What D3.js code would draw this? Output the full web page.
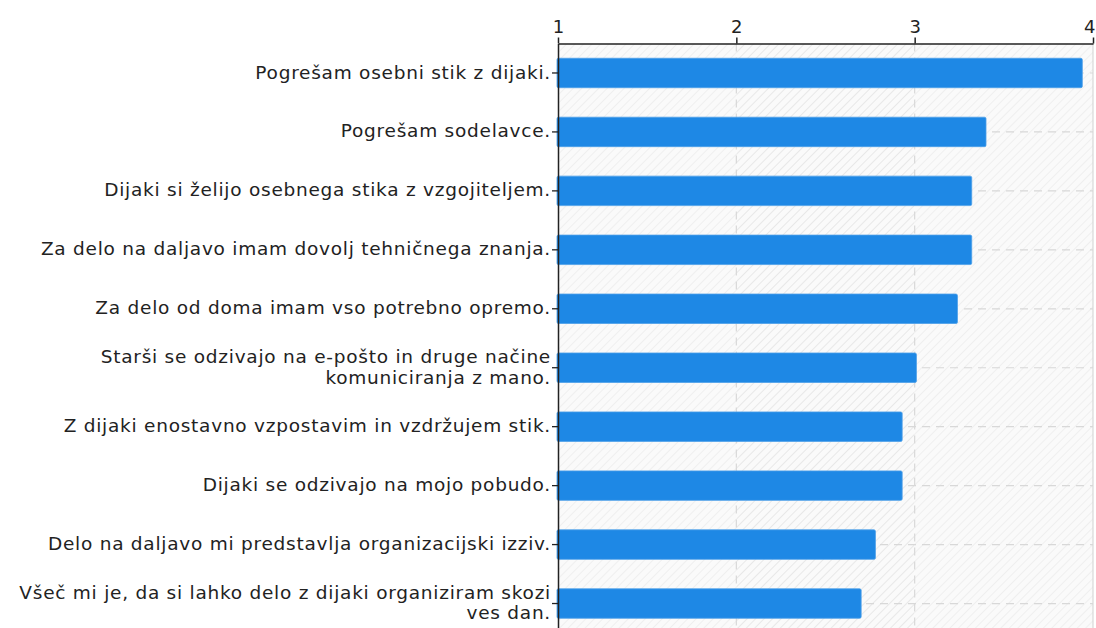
<!DOCTYPE html>
<html>
  <head>
    <meta charset="utf-8">
    <title></title>
    <style>
      body { margin: 0; background: #fff; }
      svg { display: block; font-family: 'DejaVu Sans', Verdana, sans-serif; }
    </style>
  </head>
  <body>
    <script src="https://cdn.jsdelivr.net/npm/d3@7"></script>
    <script>
      var categories = [
        'Pogrešam osebni stik z dijaki.',
        'Pogrešam sodelavce.',
        'Dijaki si želijo osebnega stika z vzgojiteljem.',
        'Za delo na daljavo imam dovolj tehničnega znanja.',
        'Za delo od doma imam vso potrebno opremo.',
        'Starši se odzivajo na e-pošto in druge načine komuniciranja z mano.',
        'Z dijaki enostavno vzpostavim in vzdržujem stik.',
        'Dijaki se odzivajo na mojo pobudo.',
        'Delo na daljavo mi predstavlja organizacijski izziv.',
        'Všeč mi je, da si lahko delo z dijaki organiziram skozi ves dan.'
      ];
      var values = [3.94, 3.40, 3.32, 3.32, 3.24, 3.01, 2.93, 2.93, 2.78, 2.70];
      var tickValues = [1, 2, 3, 4];

      var
        width = 1096, //svg宽
        height = 628, //svg高
        margin = { top: 43.5, right: 3, bottom: -5, left: 558 },
        plotW = width - margin.left - margin.right,
        plotH = height - margin.top - margin.bottom,
        fontSize = 18.5,
        spacing = 0.75;

      var svg = d3.select('body')
        .append('svg')
        .attr('width', width)
        .attr('height', height);

      // 斜线背景
      var defs = svg.append('defs');
      function hatch(id, color) {
        var p = defs.append('pattern')
          .attr('id', id)
          .attr('patternUnits', 'userSpaceOnUse')
          .attr('width', 6)
          .attr('height', 6)
          .attr('patternTransform', 'rotate(45)');
        p.append('rect').attr('width', 6).attr('height', 6).attr('fill', '#fafafa');
        p.append('line')
          .attr('x1', 0).attr('y1', 0).attr('x2', 0).attr('y2', 6)
          .attr('stroke', color).attr('stroke-width', 1.2);
      }
      hatch('hatchLight', '#e8e8e8');
      hatch('hatchDark', '#dcdcdc');

      var g = svg.append('g')
        .attr('transform', 'translate(' + margin.left + ',' + margin.top + ')');

      var x = d3.scaleLinear().domain([1, 4]).range([0, plotW]);
      var y = d3.scaleBand().domain(categories).range([0, plotH]).paddingInner(0.5).paddingOuter(0.25);

      // 背景列
      g.selectAll('.col')
        .data(d3.pairs(tickValues))
        .enter()
        .append('rect')
        .attr('x', function(d) { return x(d[0]); })
        .attr('y', 0)
        .attr('width', function(d) { return x(d[1]) - x(d[0]); })
        .attr('height', plotH)
        .attr('fill', function(d, i) { return i === 1 ? 'url(#hatchDark)' : 'url(#hatchLight)'; });

      // 网格线
      g.selectAll('.vgrid')
        .data(tickValues.slice(1))
        .enter()
        .append('line')
        .attr('x1', function(d) { return x(d); })
        .attr('x2', function(d) { return x(d); })
        .attr('y1', 0)
        .attr('y2', plotH)
        .attr('stroke', '#d8d8d8')
        .attr('stroke-width', 1.2)
        .attr('stroke-dasharray', function(d) { return d === 4 ? null : '8,6'; });

      g.selectAll('.hgrid')
        .data(categories)
        .enter()
        .append('line')
        .attr('x1', 0)
        .attr('x2', plotW)
        .attr('y1', function(d) { return y(d) + y.bandwidth() / 2; })
        .attr('y2', function(d) { return y(d) + y.bandwidth() / 2; })
        .attr('stroke', '#d8d8d8')
        .attr('stroke-width', 1.2)
        .attr('stroke-dasharray', '8,6');

      // 柱形
      g.selectAll('.bar')
        .data(values)
        .enter()
        .append('rect')
        .attr('x', -1)
        .attr('y', function(d, i) { return y(categories[i]); })
        .attr('width', function(d) { return x(d) + 1; })
        .attr('height', y.bandwidth())
        .attr('rx', 1.5)
        .attr('fill', '#1e88e5')
        .attr('stroke', '#4c9fe9')
        .attr('stroke-width', 0.8);

      // 上方坐标轴
      var xAxis = d3.axisTop(x).tickValues(tickValues).tickFormat(d3.format('d')).tickSizeInner(6).tickSizeOuter(0).tickPadding(5);
      var ax = g.append('g').call(xAxis);
      ax.select('.domain').attr('stroke', '#222').attr('stroke-width', 1.5);
      ax.selectAll('.tick line').attr('stroke', '#222').attr('stroke-width', 1.5);
      ax.selectAll('.tick text')
        .attr('fill', '#222')
        .attr('font-size', 18)
        .attr('font-family', "'DejaVu Sans', Verdana, sans-serif")
        .filter(function(d) { return d === 4; })
        .attr('text-anchor', 'end')
        .attr('dx', 2);

      // 左侧坐标轴
      var yAxis = d3.axisLeft(y).tickSizeInner(6).tickSizeOuter(0).tickFormat('');
      var ay = g.append('g').call(yAxis);
      ay.select('.domain').attr('stroke', '#222').attr('stroke-width', 1.5);
      ay.selectAll('.tick line').attr('stroke', '#222').attr('stroke-width', 1.3);

      // 分类文字（自动换行）
      var maxW = 545;
      var labels = g.selectAll('.ylabel')
        .data(categories)
        .enter()
        .append('text')
        .attr('class', 'ylabel')
        .attr('text-anchor', 'end')
        .attr('font-size', fontSize)
        .attr('letter-spacing', spacing)
        .attr('fill', '#222');

      labels.each(function(d) {
        var t = d3.select(this);
        var words = d.split(' ');
        var lines = [];
        var line = [];
        var probe = t.append('tspan');
        words.forEach(function(w) {
          line.push(w);
          probe.text(line.join(' '));
          if (probe.node().getComputedTextLength() > maxW && line.length > 1) {
            line.pop();
            lines.push(line.join(' '));
            line = [w];
          }
        });
        lines.push(line.join(' '));
        probe.remove();
        var lh = 1.12;
        var cy = y(d) + y.bandwidth() / 2;
        lines.forEach(function(l, i) {
          t.append('tspan')
            .attr('x', -7)
            .attr('y', cy)
            .attr('dy', ((i - (lines.length - 1) / 2) * lh + 0.3) + 'em')
            .text(l);
        });
      });
    </script>
  </body>
</html>
